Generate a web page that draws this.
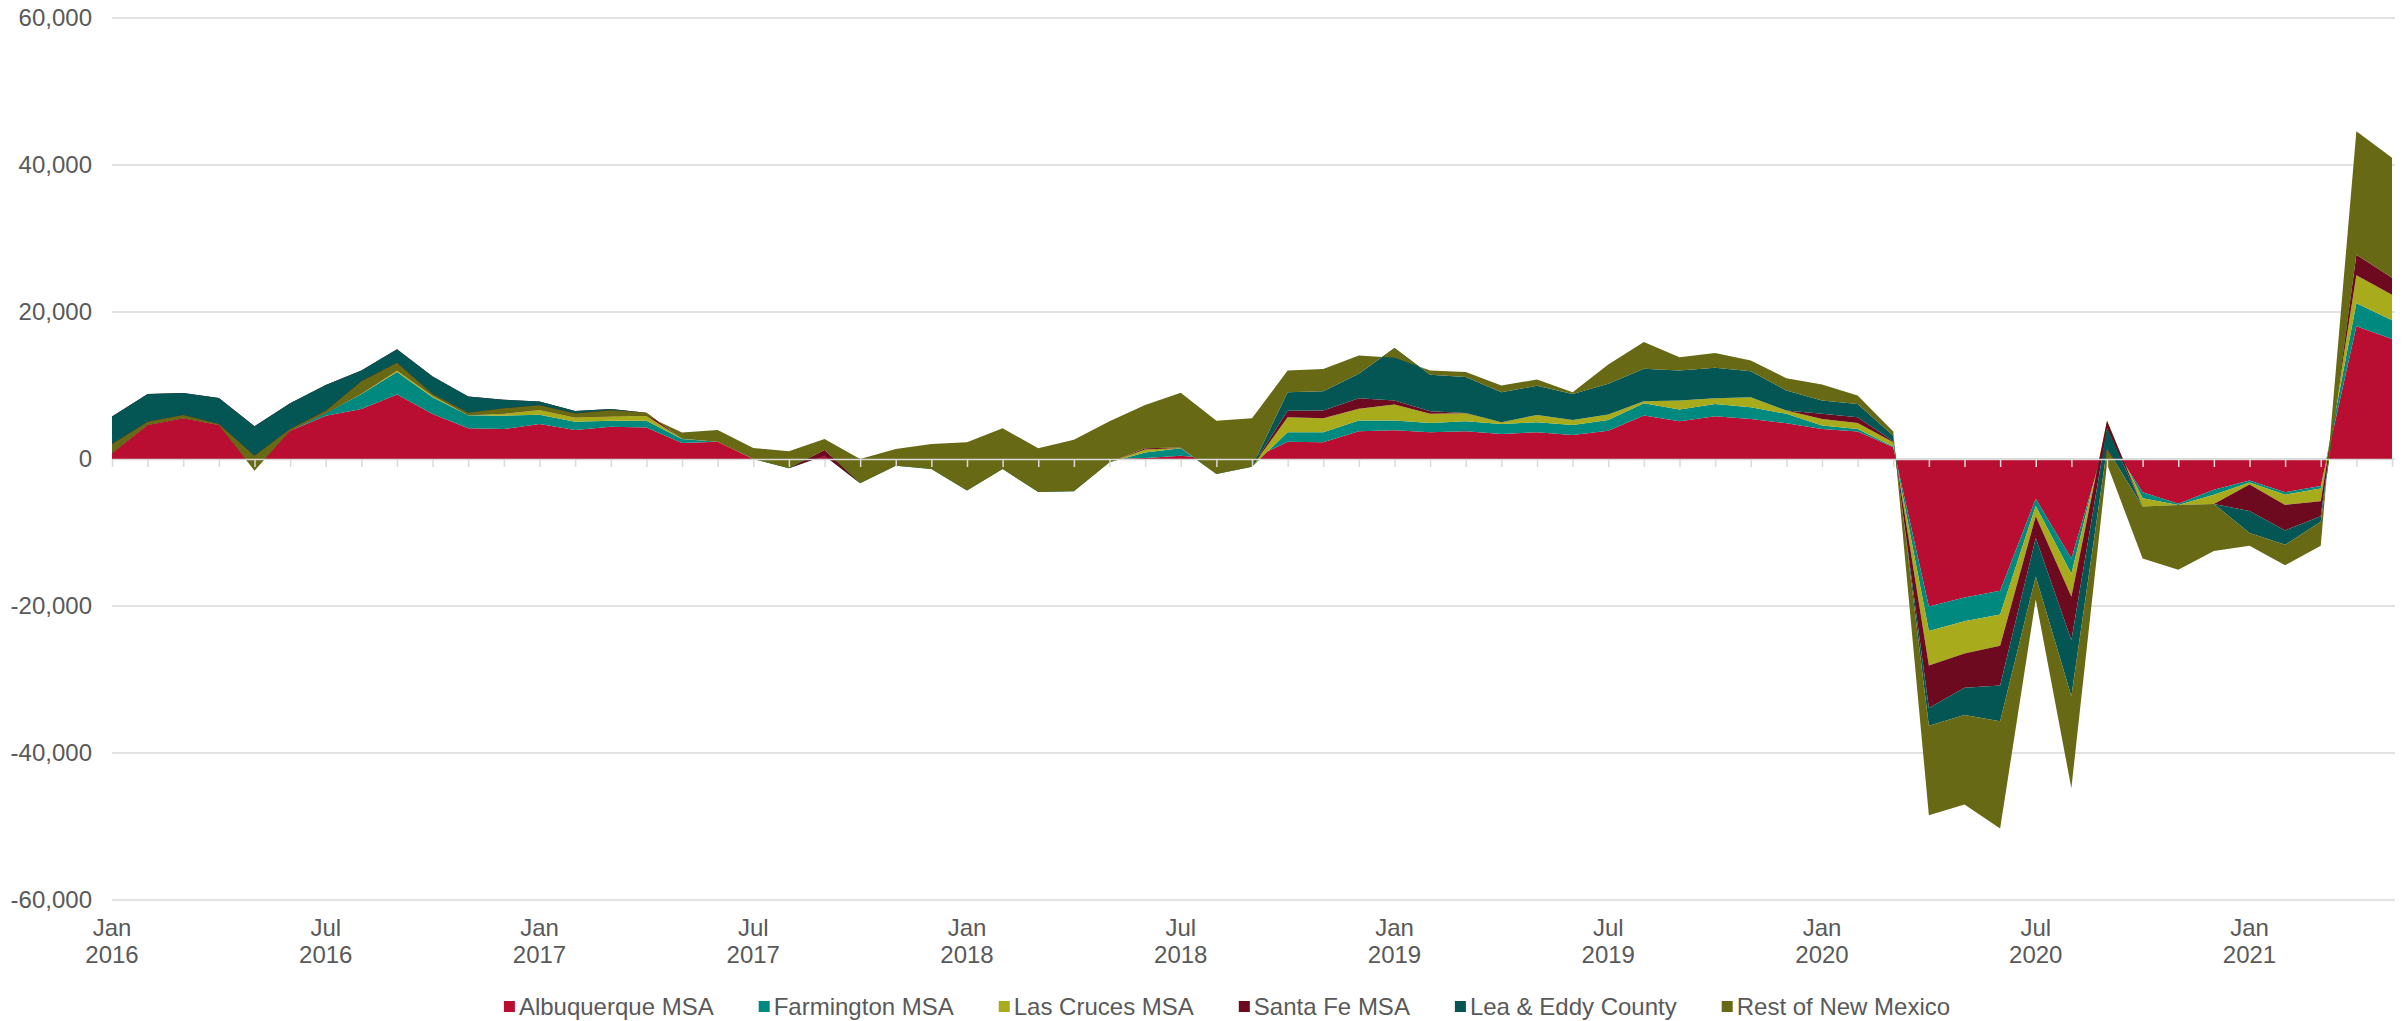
<!DOCTYPE html>
<html>
<head>
<meta charset="utf-8">
<script src="https://cdn.jsdelivr.net/npm/d3@7"></script>
<style>
  body { margin: 0; background: #fff; }
  text { font-family: 'Liberation Sans', Arial, sans-serif; fill: #595959; }
</style>
</head>
<body>
<div id="chart"></div>
<script>
// Months on the x axis, Jan 2016 - May 2021
var months = d3.timeMonth.range(new Date(2016, 0, 1), new Date(2021, 5, 1))

var seriesNames = ['Albuquerque MSA', 'Farmington MSA', 'Las Cruces MSA', 'Santa Fe MSA', 'Lea & Eddy County', 'Rest of New Mexico']
var seriesColors = ['#b90e31', '#00897f', '#a8ab1c', '#6d0a1f', '#035654', '#676914']

// one value per month, stacked cumulatively (negatives pull the stack down)
var albuquerque = [770, 4630, 5540, 4630, 100, 3860, 5900, 6810, 8770, 6130, 4200, 4070, 4750, 3950, 4380, 4290, 2180, 2360, 0, 0, 450, 0, 0, 0, 0, 0, 0, 0, 0, 150, 450, 0, 0, 2360, 2270, 3770, 3910, 3640, 3770, 3410, 3640, 3270, 3860, 5910, 5140, 5820, 5450, 4860, 4090, 3730, 1590, -20060, -18850, -17940, -5420, -13540, 3000, -4510, -6100, -4170, -2920, -4510, -3680, 18050, 16320]
var farmington = [0, 0, 0, 0, 0, 0, 320, 2040, 3070, 2270, 1760, 1830, 1280, 1120, 820, 910, 540, 0, 0, -1270, 0, -3310, -910, -1360, -4300, -1360, -4500, -4400, -450, 750, 1000, -2040, -1040, 1270, 1370, 1460, 1320, 1270, 1370, 1360, 1360, 1370, 1460, 1680, 1590, 1680, 1600, 1280, 460, 360, 110, -3340, -3220, -3220, -970, -2080, 1200, -840, -150, -690, -270, -350, -350, 3130, 2570]
var lasCruces = [0, 0, 0, 0, 0, 0, 0, 50, 230, 230, 40, 300, 670, 600, 620, 690, 30, 0, 0, 0, 0, 0, 0, 0, 0, 0, 0, 0, 0, 400, 50, 0, 0, 2050, 1905, 1590, 2180, 1230, 1090, 230, 1000, 680, 720, 270, 1220, 750, 1360, 450, 900, 820, 570, -4690, -4380, -4250, -1390, -3130, 1010, -1110, 0, -1250, -280, -1390, -1730, 3820, 3470]
var santaFe = [5000, 4220, 3450, 3670, 4350, 3720, 3860, 3130, 2850, 2580, 2520, 1860, 1130, 850, 980, 410, 0, 0, 0, 0, 780, 0, 0, 0, 0, 0, 0, 0, 0, 150, 50, 0, 0, 900, 1045, 1450, 540, 360, 30, 0, 0, 0, 0, 0, 0, 0, 0, 0, 690, 770, 130, -5780, -4680, -5420, -2980, -5900, -1040, 0, 0, 0, -3610, -3470, -2020, 2780, 2290]
var leaEddy = [-3730, -3765, -3000, -3530, -4000, -3490, -3500, -1450, -1840, -2360, -2220, -1160, -530, -320, -180, 0, 0, 0, 0, 0, 0, 0, 0, 0, 0, 0, 0, 0, 0, 0, 0, 0, 0, 2500, 2640, 3320, 7140, 4950, 4880, 4090, 3950, 3540, 4190, 4410, 4090, 4160, 3540, 2730, 1810, 1820, 780, -2430, -3710, -4860, -5210, -7640, -2780, 0, 0, 0, -2990, -1950, -760, 0, 0]
var restNM = [-1270, -455, -450, -140, -2040, -230, -360, -1680, -1010, -220, -300, -700, -600, -530, -800, -410, 840, 1590, 1500, 2310, 1490, 3310, 2270, 3400, 6570, 5540, 5950, 7030, 5580, 5900, 7480, 7260, 6580, 2950, 3000, 2500, -1320, 590, 680, 910, 870, 230, 2630, 3640, 1820, 2020, 1460, 1680, 2190, 1140, 550, -12160, -12160, -14590, -3130, -12500, -2080, -7080, -8820, -6390, -1730, -2770, -3260, 16800, 16320]

var yTicks = [-60000, -40000, -20000, 0, 20000, 40000, 60000]
var labelMonths = d3.range(0, 65, 6)

var width = 2404
var height = 1021

var svg = d3
  .select('#chart')
  .append('svg')
  .attr('width', width)
  .attr('height', height)

const xPositionScale = d3
  .scaleLinear()
  .domain([0, months.length - 1])
  .range([112, 2392])
const yPositionScale = d3
  .scaleLinear()
  .domain([-60000, 60000])
  .range([900, 18])

var valueArrays = [albuquerque, farmington, lasCruces, santaFe, leaEddy, restNM]
var table = months.map(function(m, i) {
  var row = { i: i, date: m }
  seriesNames.forEach(function(name, k) {
    row[name] = valueArrays[k][i]
  })
  return row
})

// gridlines
svg
  .append('g')
  .selectAll('line')
  .data(yTicks)
  .enter()
  .append('line')
  .attr('x1', 112)
  .attr('x2', 2395)
  .attr('y1', d => yPositionScale(d))
  .attr('y2', d => yPositionScale(d))
  .attr('stroke', '#d9d9d9')
  .attr('stroke-width', 1.5)

// y labels (plain hyphen for negatives, like the original)
var fmtValue = d3.format(',')
svg
  .append('g')
  .selectAll('text')
  .data(yTicks)
  .enter()
  .append('text')
  .text(d => fmtValue(d).replace('\u2212', '-'))
  .attr('x', 92)
  .attr('y', d => yPositionScale(d))
  .attr('dy', '0.35em')
  .attr('text-anchor', 'end')
  .attr('font-size', 24)

// stacked areas, Excel style: plain cumulative sums
var stacked = d3.stack().keys(seriesNames)(table)

var area = d3
  .area()
  .x(d => xPositionScale(d.data.i))
  .y0(d => yPositionScale(d[0]))
  .y1(d => yPositionScale(d[1]))

svg
  .append('g')
  .selectAll('path')
  .data(stacked)
  .enter()
  .append('path')
  .attr('d', area)
  .attr('fill', (d, i) => seriesColors[i])

// zero axis with monthly ticks
var xAxis = d3
  .axisBottom(xPositionScale)
  .tickValues(d3.range(months.length))
  .tickSize(8)
  .tickSizeOuter(0)
  .tickFormat('')
var axisG = svg
  .append('g')
  .attr('transform', 'translate(0,' + yPositionScale(0) + ')')
  .call(xAxis)
axisG.select('.domain').attr('stroke', '#d9d9d9').attr('stroke-width', 1.5)
axisG.selectAll('.tick line').attr('stroke', '#d9d9d9').attr('stroke-width', 1.5)

// month labels at the bottom
var fmtMonth = d3.timeFormat('%b')
var fmtYear = d3.timeFormat('%Y')
var labels = svg
  .append('g')
  .selectAll('text')
  .data(labelMonths)
  .enter()
  .append('text')
  .attr('text-anchor', 'middle')
  .attr('font-size', 24)
labels
  .append('tspan')
  .attr('x', d => xPositionScale(d))
  .attr('y', 936)
  .text(d => fmtMonth(months[d]))
labels
  .append('tspan')
  .attr('x', d => xPositionScale(d))
  .attr('y', 963)
  .text(d => fmtYear(months[d]))

// legend
var legend = svg.append('g')
var lx = 0
seriesNames.forEach(function(name, i) {
  var item = legend.append('g').attr('transform', 'translate(' + lx + ',0)')
  item
    .append('rect')
    .attr('x', 0)
    .attr('y', 1001)
    .attr('width', 11)
    .attr('height', 11)
    .attr('fill', seriesColors[i])
  var t = item
    .append('text')
    .text(name)
    .attr('x', 15)
    .attr('y', 1015)
    .attr('font-size', 24)
  lx += 15 + t.node().getComputedTextLength() + 45
})
var legendWidth = lx - 45
legend.attr('transform', 'translate(' + (1227 - legendWidth / 2) + ',0)')
</script>
</body>
</html>
